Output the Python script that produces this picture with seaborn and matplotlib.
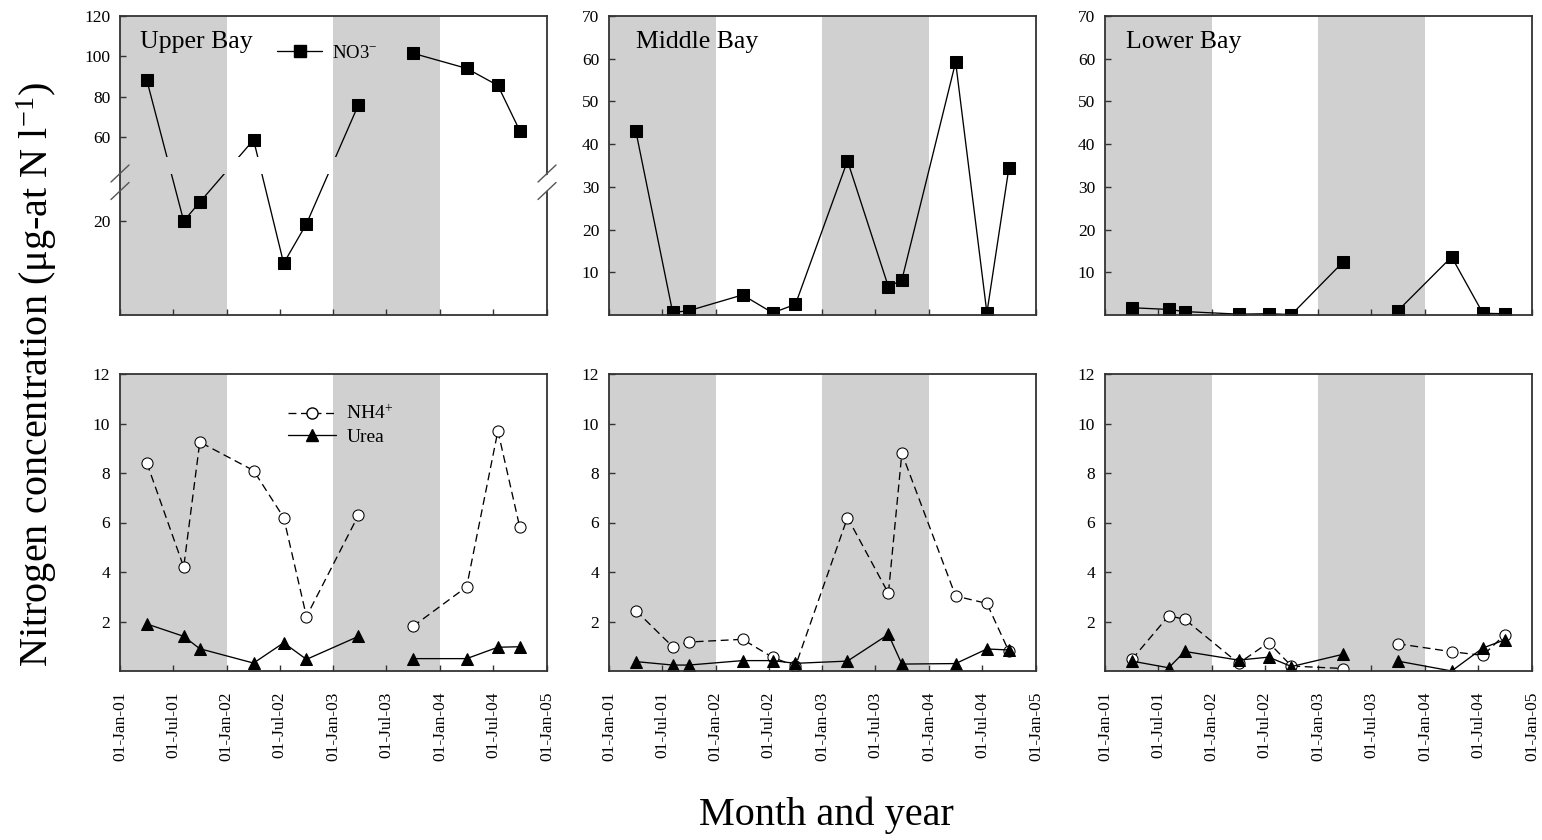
import numpy as np
import pandas as pd
import matplotlib
matplotlib.use("Agg")
import matplotlib.pyplot as plt
import matplotlib.dates as mdates
from matplotlib.lines import Line2D
import seaborn as sns

sns.set_theme(style="ticks")
plt.rcParams["font.family"] = ["Liberation Serif", "DejaVu Serif"]
plt.rcParams["mathtext.fontset"] = "custom"
plt.rcParams["mathtext.rm"] = "Liberation Serif"
plt.rcParams["mathtext.it"] = "Liberation Serif:italic"
plt.rcParams["mathtext.bf"] = "Liberation Serif:bold"
plt.rcParams["text.color"] = "black"

# ---------------- data ----------------
sample_dates = ["2001-04-03", "2001-08-07", "2001-10-01", "2002-04-03", "2002-07-15",
                "2002-10-01", "2003-03-28", "2003-08-15", "2003-09-30", "2004-04-01",
                "2004-07-17", "2004-09-30"]

upper_no3 = [88, 20, 24, 58.5, 11, 19.4, 76, np.nan, 101.5, 94, 85.5, 63]
middle_no3 = [43, 0.6, 1.0, 4.7, 0.5, 2.5, 36.1, 6.6, 8.2, 59.2, 0.5, 34.3]
lower_no3 = [1.7, 1.3, 0.8, 0.2, 0.3, 0.1, 12.5, np.nan, 1.0, 13.6, 0.4, 0.3]

upper_nh4 = [8.4, 4.2, 9.25, 8.1, 6.2, 2.2, 6.3, np.nan, 1.8, 3.4, 9.7, 5.8]
upper_urea = [1.9, 1.4, 0.9, 0.32, 1.14, 0.47, 1.4, np.nan, 0.5, 0.5, 0.96, 0.98]
middle_nh4 = [2.44, 0.98, 1.17, 1.28, 0.55, 0.2, 6.2, 3.14, 8.8, 3.03, 2.73, 0.8]
middle_urea = [0.38, 0.24, 0.24, 0.42, 0.42, 0.31, 0.4, 1.48, 0.28, 0.3, 0.89, 0.85]
lower_nh4 = [0.47, 2.23, 2.09, 0.31, 1.15, 0.2, 0.1, np.nan, 1.1, 0.78, 0.63, 1.47]
lower_urea = [0.4, 0.13, 0.79, 0.44, 0.56, 0.18, 0.68, np.nan, 0.4, 0.0, 0.93, 1.26]

bays = ["Upper Bay", "Middle Bay", "Lower Bay"]
no3_series = [upper_no3, middle_no3, lower_no3]
nh4_series = [upper_nh4, middle_nh4, lower_nh4]
urea_series = [upper_urea, middle_urea, lower_urea]

shaded_periods = [("2001-01-01", "2002-01-01"), ("2003-01-01", "2004-01-01")]
x_start, x_end = "2001-01-01", "2005-01-01"

top_yticks = [[20, 60, 80, 100, 120], [10, 20, 30, 40, 50, 60, 70], [10, 20, 30, 40, 50, 60, 70]]
bottom_yticks = [2, 4, 6, 8, 10, 12]

# broken axis for Upper Bay nitrate (value knots -> screen knots)
break_vals = [0, 30, 50, 120]
break_screen = [0, 141, 158, 299]

GRAY = "#d0d0d0"
SPINE = "#333333"


def make_df(vals):
    df = pd.DataFrame({"date": pd.to_datetime(sample_dates), "value": vals})
    df["seg"] = df["value"].isna().cumsum()
    return df.dropna()


def style_axes(ax, labels):
    for start, end in shaded_periods:
        ax.axvspan(pd.Timestamp(start), pd.Timestamp(end), color=GRAY, lw=0, zorder=0)
    ax.set_xlim(pd.Timestamp(x_start), pd.Timestamp(x_end))
    ax.xaxis.set_major_locator(mdates.MonthLocator(bymonth=[1, 7]))
    ax.xaxis.set_major_formatter(mdates.DateFormatter("%d-%b-%y"))
    ax.tick_params(axis="both", direction="in", length=4, width=1, colors=SPINE,
                   labelcolor="black", labelsize=12.5)
    ax.tick_params(axis="y", pad=7)
    ax.tick_params(axis="x", pad=15, labelbottom=labels, labelrotation=90)
    for s in ax.spines.values():
        s.set_visible(True)
        s.set_color(SPINE)
        s.set_linewidth(1.3)
        s.set_zorder(5)
    ax.set_xlabel("")
    ax.set_ylabel("")
    ax.grid(False)


fig = plt.figure(figsize=(15.42, 8.4), dpi=100)
W, H = 1542, 840
col_left = [120, 609, 1105]
ax_w = 427
top_row = (16, 315)
bot_row = (374, 671)

line_kw = dict(color="black", linewidth=0.95, estimator=None, legend=False)

title_x = [0.047, 0.063, 0.049]

for i in range(3):
    # ---------- nitrate (top) ----------
    ax = fig.add_axes([col_left[i] / W, 1 - top_row[1] / H, ax_w / W,
                       (top_row[1] - top_row[0]) / H])
    df = make_df(no3_series[i])
    if i == 0:
        ax.set_yscale("function", functions=(
            lambda v: np.interp(v, break_vals, break_screen),
            lambda s: np.interp(s, break_screen, break_vals)))
    sns.lineplot(data=df, x="date", y="value", units="seg", ax=ax, marker="s",
                 markersize=8.5, markerfacecolor="black", markeredgecolor="black", **line_kw)
    style_axes(ax, labels=False)
    if i == 0:
        ax.set_ylim(0, 120)
        # mask lines inside the axis break band
        ax.axhspan(break_vals[1], break_vals[2], facecolor="white", lw=0, zorder=3)
        for start, end in shaded_periods:
            ax.fill_between(np.array([start, end], dtype="datetime64[D]"),
                            break_vals[1], break_vals[2], color=GRAY, lw=0, zorder=3.1)
        # break marks
        yc = [(299 - 157.5) / 299, (299 - 175) / 299]
        dx, dy = 9 / ax_w, 8.5 / 299
        for xx in (0, 1):
            for y0 in yc:
                ax.plot([xx - dx, xx + dx], [y0 - dy, y0 + dy], transform=ax.transAxes,
                        color="#555555", lw=1, clip_on=False, zorder=7)
        ax.plot([1, 1], [yc[1] + 0.008, yc[0] - 0.008], transform=ax.transAxes,
                color="white", lw=2.5, clip_on=False, zorder=6)
        ax.legend(handles=[Line2D([], [], color="black", lw=0.95, marker="s",
                                  markersize=8.5, label="NO3$^{-}$")],
                  loc="center left", bbox_to_anchor=(0.368, 0.876), frameon=False,
                  borderpad=0, borderaxespad=0, handlelength=2.4, handletextpad=0.5,
                  fontsize=13.5)
    else:
        ax.set_ylim(0, 70)
    ax.set_yticks(top_yticks[i])
    ax.text(title_x[i], 0.913, bays[i], transform=ax.transAxes, ha="left", va="center",
            fontsize=18.5, color="black", zorder=8)

    # ---------- NH4 and urea (bottom) ----------
    axb = fig.add_axes([col_left[i] / W, 1 - bot_row[1] / H, ax_w / W,
                        (bot_row[1] - bot_row[0]) / H])
    dfn = make_df(nh4_series[i])
    dfu = make_df(urea_series[i])
    sns.lineplot(data=dfn, x="date", y="value", units="seg", ax=axb, marker="o",
                 markersize=8, markerfacecolor="white", markeredgecolor="black",
                 linestyle=(0, (6, 3.5)), **line_kw)
    sns.lineplot(data=dfu, x="date", y="value", units="seg", ax=axb, marker="^",
                 markersize=9, markerfacecolor="black", markeredgecolor="black", **line_kw)
    style_axes(axb, labels=True)
    axb.set_ylim(0, 12)
    axb.set_yticks(bottom_yticks)
    if i == 0:
        handles = [
            Line2D([], [], color="black", lw=0.95, linestyle=(0, (6, 3.5)), marker="o",
                   markersize=8, markerfacecolor="white", label="NH4$^{+}$"),
            Line2D([], [], color="black", lw=0.95, marker="^", markersize=9,
                   label="Urea"),
        ]
        axb.legend(handles=handles, loc="center left", bbox_to_anchor=(0.393, 0.827),
                   frameon=False, borderpad=0, borderaxespad=0, handlelength=2.5,
                   handletextpad=0.5, labelspacing=0.25, fontsize=14)

fig.text(0.024, 0.554, "Nitrogen concentration (μg-at N l$^{-1}$)", rotation=90,
         ha="center", va="center", fontsize=29, color="black")
fig.text(0.536, 0.03, "Month and year", ha="center", va="center", fontsize=29,
         color="black")

fig.savefig("out.png", dpi=100)
